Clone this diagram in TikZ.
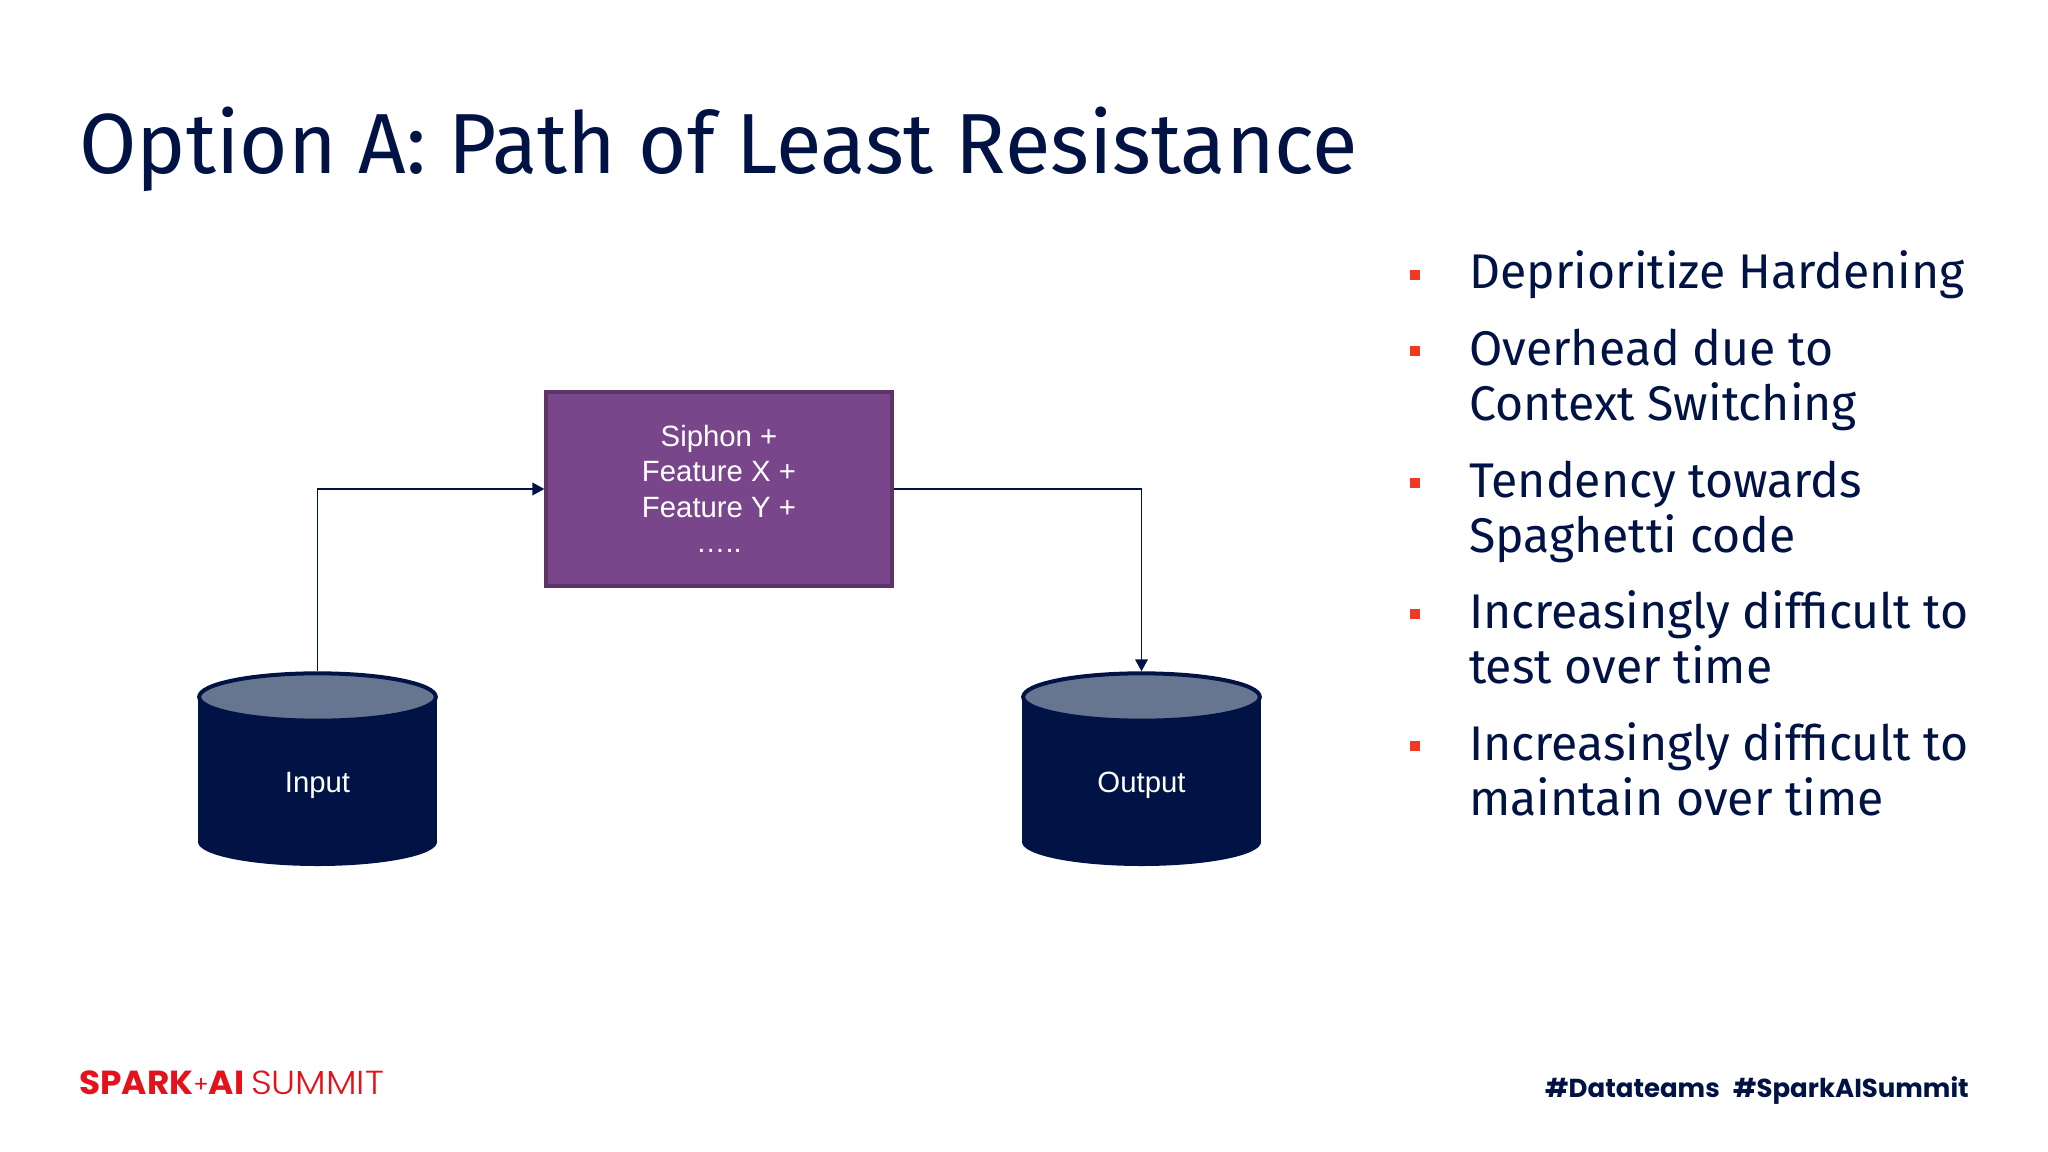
\documentclass[tikz,border=0pt]{standalone}
\usepackage{fontspec}
\usetikzlibrary{arrows.meta,shapes.geometric}
\setmainfont{Liberation Sans}
\newfontfamily\headfont[FakeStretch=0.974]{Fira Sans}
\newfontfamily\bulletfont[FakeStretch=0.99]{Fira Sans}
\newfontfamily\logobold[FakeStretch=1.03]{Poppins Bold}
\newfontfamily\logolight[FakeStretch=1.09]{Poppins Light}
\newfontfamily\logoplus{Poppins}
\newfontfamily\tagfont{Poppins Bold}
\definecolor{navy}{HTML}{001344}
\definecolor{purplebox}{HTML}{7A468B}
\definecolor{purpleedge}{HTML}{5C3468}
\definecolor{lidfill}{HTML}{667590}
\definecolor{sparkred}{HTML}{E3121B}
\definecolor{bulletred}{HTML}{F23A22}
\tikzset{
  headline/.style={anchor=base west,inner sep=0,text=navy,font=\headfont\fontsize{64}{64}\selectfont},
  bullettext/.style={anchor=base west,inner sep=0,text=navy,font=\bulletfont\fontsize{36.5}{36.5}\selectfont},
  bulletmark/.style={fill=bulletred,draw=none,minimum size=7.5pt,inner sep=0},
  procbox/.style={fill=purplebox,draw=purpleedge,line width=3pt,minimum width=259pt,minimum height=146pt,inner sep=0,
     text=white,align=center,font=\fontsize{22}{26.5}\selectfont},
  lid/.style={ellipse,fill=lidfill,draw=navy,line width=3pt,minimum width=177.5pt,minimum height=35.5pt,inner sep=0},
  dblabel/.style={text=white,inner sep=0,font=\fontsize{22}{26}\selectfont},
  flow/.style={draw=navy,line width=1.1pt,-{Triangle[length=9pt,width=9.5pt]}},
  tag/.style={anchor=base east,inner sep=0,text=navy,font=\tagfont\fontsize{19.5}{19.5}\selectfont},
}
\newcommand{\dbbody}[1]{%
  \fill[navy] (#1-119.5,697) rectangle (#1+119.5,842);
  \fill[navy] (#1,842) ellipse [x radius=119.5,y radius=24];
}
\begin{document}
\begin{tikzpicture}[x=0.75pt,y=-0.75pt]
\useasboundingbox (0,0) rectangle (2048,1152);
\fill[white] (0,0) rectangle (2048,1152);
\node[headline] (title) at (79,174) {Option A: Path of Least Resistance};

\dbbody{317.5}
\dbbody{1141.5}
\node[lid] (inlid) at (317.5,697) {};
\node[lid] (outlid) at (1141.5,697) {};
\node[dblabel] (input) at (317.5,785) {Input};
\node[dblabel] (output) at (1141.5,785) {Output};
\node[procbox] (proc) at (719,489) {Siphon +\\Feature X +\\Feature Y +\\…..};
\draw[flow] (inlid.north) |- (proc.west);
\draw[flow] (proc.east) -| (outlid.north);

\node[bulletmark] (b1) at (1415,275) {};
\node[bulletmark] (b2) at (1415,351) {};
\node[bulletmark] (b3) at (1415,483) {};
\node[bulletmark] (b4) at (1415,614) {};
\node[bulletmark] (b5) at (1415,746) {};
\node[bullettext] (t1) at (1469,288.5) {Deprioritize Hardening};
\node[bullettext] (t2) at (1469,365.5) {Overhead due to};
\node[bullettext] (t2b) at (1469,420.5) {Context Switching};
\node[bullettext] (t3) at (1469,497.5) {Tendency towards};
\node[bullettext] (t3b) at (1469,552.5) {Spaghetti code};
\node[bullettext] (t4) at (1469,628.5) {Increasingly difficult to};
\node[bullettext] (t4b) at (1469,683.5) {test over time};
\node[bullettext] (t5) at (1469,760.5) {Increasingly difficult to};
\node[bullettext] (t5b) at (1469,815.5) {maintain over time};

\node[anchor=base west,inner sep=0,text=sparkred,font=\fontsize{25}{25}\selectfont] (logo) at (79,1094)
  {{\logobold SPARK}\raisebox{1.5pt}{\logoplus\fontsize{17}{17}\selectfont +}{\logobold AI}\hspace{5pt}{\logolight SUMMIT}};
\node[tag] (tags) at (1969,1097) {\#Datateams\hspace{10pt}\#SparkAISummit};
\end{tikzpicture}
\end{document}
